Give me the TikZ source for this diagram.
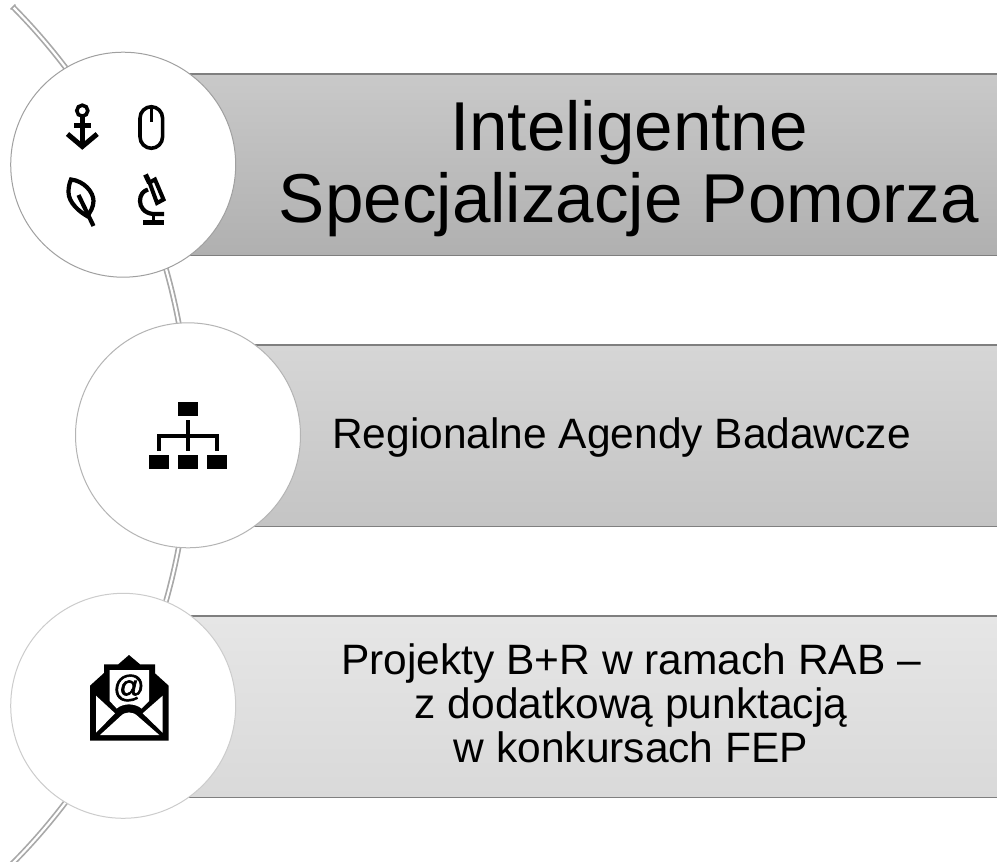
\documentclass[tikz,border=0pt]{standalone}
\usepackage{fontspec}
\setmainfont{Liberation Sans}
\newfontfamily\heavyat[FakeBold=2]{Liberation Sans}
\definecolor{edgeA}{HTML}{7F7F7F}
\definecolor{ringA}{HTML}{A0A0A0}
\definecolor{ringB}{HTML}{B4B4B4}
\definecolor{ringC}{HTML}{CCCCCC}
\definecolor{spineC}{HTML}{A8A8A8}
\definecolor{oneT}{HTML}{C9C9C9}
\definecolor{oneB}{HTML}{B0B0B0}
\definecolor{twoT}{HTML}{D6D6D6}
\definecolor{twoB}{HTML}{C4C4C4}
\definecolor{threeT}{HTML}{E6E6E6}
\definecolor{threeB}{HTML}{D9D9D9}
\tikzset{
  barfill/.style 2 args={top color=#1,bottom color=#2,draw=none,minimum width=870pt,minimum height=181pt,anchor=north west,inner sep=0pt},
  barline/.style={draw=edgeA,line width=1.2pt},
  disc/.style={circle,fill=white,draw=#1,line width=1pt,minimum size=225pt,inner sep=0pt},
  spine/.style={draw=spineC,line width=1.7pt,double=white,double distance=2.2pt},
  glyph/.style={draw=black,line width=3.6pt,fill=none},
  wire/.style={draw=black,line width=4pt},
  caption/.style={align=center,text=black,inner sep=0pt}
}
\begin{document}
\begin{tikzpicture}[x=1pt,y=-1pt]
\useasboundingbox (0,0) rectangle (997,862);
\fill[white] (0,0) rectangle (997,862);
% spine
\coordinate (spinetop) at (13,7);
\draw[spine] (spinetop) arc[start angle=-44.74,end angle=45.7,radius=608];
\draw[spineC,line width=1.5pt] (10.6,9.4) -- (15.4,4.6);
% bars
\node[barfill={oneT}{oneB}] (bar1) at (127,74) {};
\node[barfill={twoT}{twoB}] (bar2) at (127,345) {};
\node[barfill={threeT}{threeB}] (bar3) at (127,616) {};
\foreach \b in {bar1,bar2,bar3}{
  \draw[barline] (\b.north west) -- (\b.north east);
  \draw[barline] (\b.south west) -- (\b.south east);
}
% discs
\node[disc=ringA] (c1) at (123.2,164.7) {};
\node[disc=ringB] (c2) at (188,435.3) {};
\node[disc=ringC] (c3) at (123.2,705.8) {};
% anchor icon
\draw[glyph] (82.3,110.7) circle[radius=5.5];
\draw[glyph,line width=4.4pt] (82.3,116) -- (82.3,146);
\draw[glyph,line width=4.6pt] (74,125.7) -- (91,125.7);
\draw[glyph,line width=5pt] (67.5,134) -- (82.3,146.5) -- (97.2,134);
% mouse icon
\draw[glyph,rounded corners=11.5pt] (140,106.7) rectangle (162.6,148.3);
\draw[glyph] (151.3,106.7) -- (151.3,121.5);
% leaf icon
\draw[glyph,line width=4.2pt] (71,179.5) .. controls (84,181) and (93.5,192) .. (93.5,201) .. controls (93.5,207) and (90,213) .. (87,216) .. controls (80,212) and (68.5,203) .. (68.5,192) .. controls (68.5,187) and (69.5,183) .. (71,179.5) -- cycle;
\draw[glyph,line width=4.2pt] (78.5,195) -- (93.5,226);
% microscope icon
\draw[glyph,line width=4pt] (149.5,182.5) -- (155,179.5) -- (163.5,199.5) -- (157,203) -- cycle;
\draw[glyph,line width=5pt] (145.5,174.5) -- (149.5,183);
\draw[glyph,line width=4.2pt] (164,214) -- (153,214) .. controls (144,213) and (140,207) .. (140,201) .. controls (140,195) and (143,191) .. (148,189.5);
\draw[glyph] (153.3,214) -- (153.3,222);
\fill[black] (143.3,219.8) rectangle (164,224.5);
% org chart icon
\fill[black] (178,402) rectangle (198,416);
\fill[black] (148.7,455.3) rectangle (168.7,469);
\fill[black] (178,455.3) rectangle (198,469);
\fill[black] (207.3,455.3) rectangle (227.3,469);
\draw[wire] (188,420) -- (188,451);
\draw[wire] (158.7,451) -- (158.7,435.7) -- (217.3,435.7) -- (217.3,451);
% envelope icon
\fill[black] (90,685.7) -- (104,673) -- (104,664.3) -- (118.3,664.3) -- (129,655) -- (140,664.3) -- (155,664.3) -- (155,673.3) -- (168.7,685.7) -- (168.7,740.7) -- (90,740.7) -- cycle;
\fill[white] (109.7,670) -- (149,670) -- (149,701) -- (141.5,708.5) .. controls (135,703) and (123,703) .. (116.7,708.5) -- (109.7,701) -- cycle;
\fill[white] (96,695.7) -- (115,713.3) -- (96,732.7) -- cycle;
\fill[white] (162.7,695.7) -- (142.7,713.3) -- (162.7,732.7) -- cycle;
\fill[white] (100,735) -- (120,716.7) .. controls (125,711) and (133,711) .. (138.3,716.7) -- (159.3,735) -- cycle;
\node[inner sep=0pt,font=\heavyat\fontsize{31}{31}\selectfont] (at1) at (129,688) {@};
% captions
\node[caption,font=\fontsize{69.2}{72.7}\selectfont] (t1) at (629,168.5) {Inteligentne\\Specjalizacje Pomorza};
\node[caption,font=\fontsize{42.5}{43}\selectfont] (t2) at (621.5,438) {Regionalne Agendy Badawcze};
\node[caption,font=\fontsize{42.5}{44}\selectfont] (t3) at (631,703.5) {Projekty B+R w ramach RAB –\\z dodatkową punktacją\\w konkursach FEP};
\end{tikzpicture}
\end{document}
